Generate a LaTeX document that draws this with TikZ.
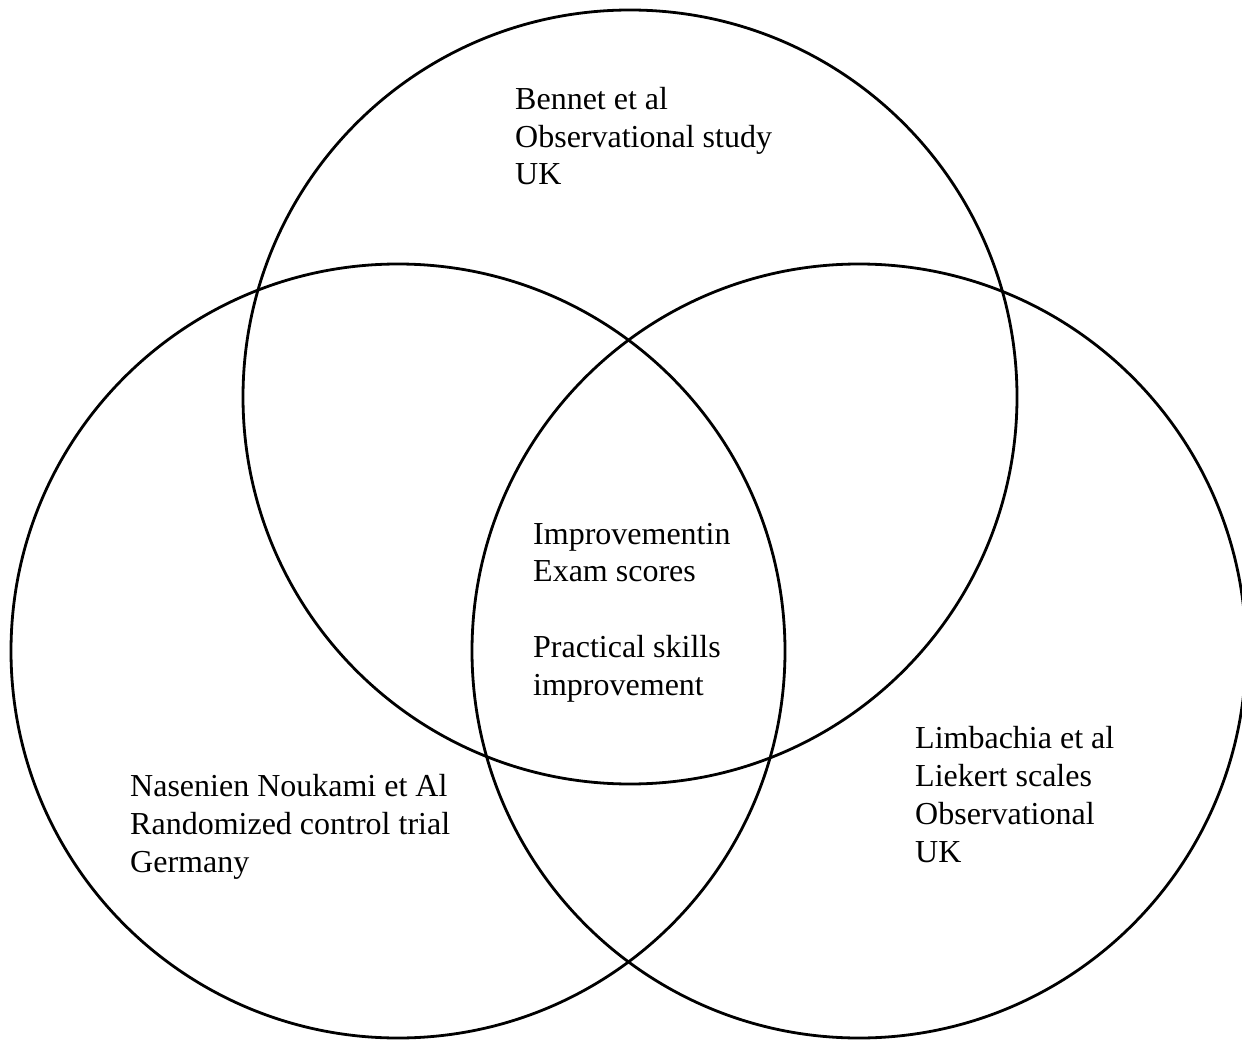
\documentclass[tikz,border=0pt]{standalone}
\usepackage{fontspec}
\setmainfont{Liberation Serif}
\begin{document}
\begin{tikzpicture}[x=1pt,y=-1pt,
  venn/.style={circle,draw=black,line width=2.8pt,minimum size=774pt,inner sep=0pt},
  lbl/.style={anchor=base west,align=left,inner sep=0pt,font=\fontsize{32}{37.7}\selectfont}]
\useasboundingbox (0,0) rectangle (1242,1040);
\clip (0,0) rectangle (1242,1040);
\node[venn] (top) at (630,397) {};
\node[venn] (left) at (398,651) {};
\node[venn] (right) at (859,651) {};
\node[lbl] (ttop) at (515,185) {Bennet et al\\Observational study\\UK};
\node[lbl] (tmid) at (533,695) {Improvementin\\Exam scores\\[37.7pt]Practical skills\\improvement};
\node[lbl] (tleft) at (130,872) {Nasenien Noukami et Al\\Randomized control trial\\Germany};
\node[lbl] (tright) at (915,862) {Limbachia et al\\Liekert scales\\Observational\\UK};
\end{tikzpicture}
\end{document}
